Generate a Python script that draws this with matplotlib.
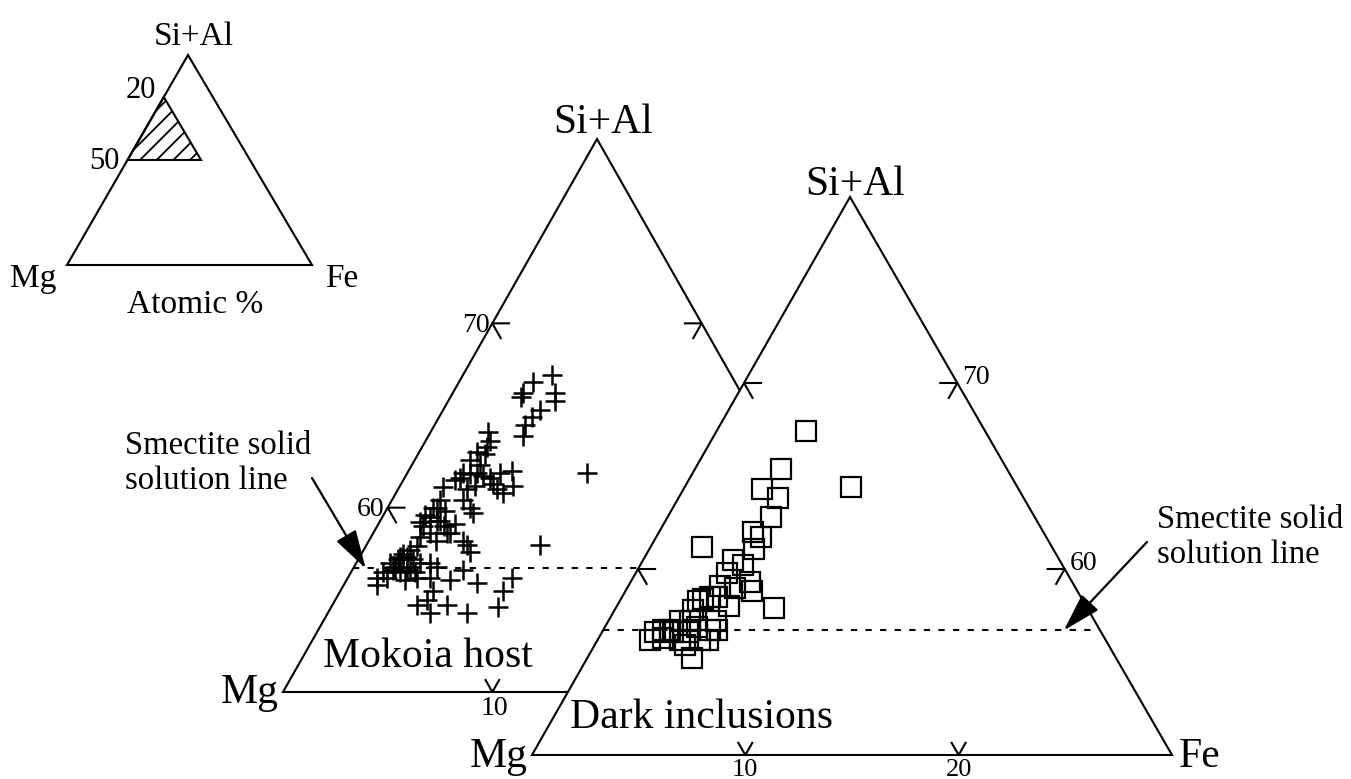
import numpy as np
import matplotlib
matplotlib.use('Agg')
import matplotlib.pyplot as plt
from matplotlib.patches import Polygon

plt.rcParams['font.family'] = ['Liberation Serif', 'DejaVu Serif']
plt.rcParams['hatch.linewidth'] = 1.3

# atomic % compositions (Fe, Si+Al); Mg is the rest
host_fe = [4.25, 3.52, 3.35, 3.35, 4.88, 5.07, 4.63, 4.44, 4.32, 4.50,
           2.74, 3.11, 3.10, 2.79, 2.64, 2.66, 3.05, 3.33, 3.72, 2.65,
           4.43, 4.96, 5.38, 4.74, 5.11, 4.36, 2.08, 3.39, 3.92, 4.22,
           8.59, 3.25, 3.22, 3.56, 3.31, 2.47, 4.09, 2.34, 2.27, 2.69,
           3.17, 3.52, 2.21, 2.71, 2.34, 3.23, 2.47, 4.80, 5.14, 8.29,
           2.83, 3.66, 4.48, 2.15, 1.96, 1.98, 2.86, 3.69, 2.29, 2.22,
           1.96, 1.87, 1.61, 2.11, 2.26, 2.63, 3.05, 3.53, 3.97, 1.94,
           2.36, 2.61, 1.55, 1.37, 2.79, 3.90, 5.29, 4.94, 6.31, 7.85,
           7.75, 4.40, 4.39, 4.04, 5.48, 6.65, 7.95, 4.88, 1.85, 1.59,
           3.28, 1.93, 1.96, 2.68, 3.05]
host_si = [67.2, 66.8, 66.2, 66.0, 66.2, 65.8, 65.3, 64.9, 64.5, 63.9,
           64.1, 63.6, 63.3, 63.0, 62.6, 61.9, 61.8, 61.9, 61.7, 61.6,
           61.9, 62.0, 61.2, 61.0, 60.8, 61.3, 61.1, 60.4, 60.0, 59.7,
           61.9, 62.3, 62.9, 61.2, 61.0, 61.5, 61.6, 60.0, 59.5, 59.3,
           59.0, 58.6, 59.0, 58.6, 58.4, 58.2, 57.9, 58.0, 57.6, 58.0,
           59.3, 58.6, 58.2, 60.0, 59.2, 59.6, 59.8, 59.1, 60.4, 57.7,
           57.5, 57.2, 57.0, 57.2, 57.3, 57.2, 57.0, 57.0, 56.8, 56.6,
           56.5, 56.6, 56.5, 56.2, 56.1, 56.2, 56.6, 56.1, 55.9, 56.2,
           55.5, 55.5, 55.0, 54.7, 54.7, 54.3, 54.6, 54.3, 56.2, 55.8,
           56.2, 57.3, 56.8, 56.8, 56.5]

dark_fe = [4.19, 4.00, 7.80, 3.68, 4.66, 4.82, 4.40, 4.91, 4.88, 2.41,
           4.21, 4.81, 4.28, 5.60, 5.05, 5.93, 7.42, 5.24, 3.82, 4.13,
           4.45, 3.64, 3.68, 3.38, 3.85, 4.32, 5.01, 5.33, 2.80, 2.46,
           3.01, 3.35, 3.87, 4.01, 5.18, 4.91, 3.13, 4.81, 2.48, 4.23,
           5.07, 4.27]
dark_si = [67.4, 65.4, 64.4, 64.3, 63.8, 62.8, 62.0, 61.7, 61.1, 61.2,
           60.5, 60.2, 59.8, 59.3, 59.0, 58.8, 57.9, 58.0, 58.4, 58.5,
           58.5, 58.3, 57.8, 57.2, 57.2, 56.9, 56.7, 56.7, 56.7, 56.2,
           56.3, 56.6, 56.2, 56.6, 56.2, 55.2, 56.7, 56.2, 56.6, 55.9,
           57.2, 59.1]

si_ticks = [60, 70]
fe_ticks = [10, 20]
smectite_si = 56.7

# triangle corners on the page: Mg, Si+Al, Fe
LEFT = [(283, 692), (597, 139), (911, 692)]
RIGHT = [(532, 755), (850, 197), (1172, 755)]
INSET = [(67, 265), (188, 55), (312, 265)]

fig = plt.figure(figsize=(13.51, 7.79), dpi=100)
ax = fig.add_axes([0, 0, 1, 1])
ax.set_xlim(0, 1351)
ax.set_ylim(779, 0)
ax.axis('off')


def tern(fe, si, tri, lo=50, span=30):
    (mx, my), (tx, ty), (fx, fy) = tri
    a = (np.asarray(si, dtype=float) - lo) / span
    b = np.asarray(fe, dtype=float) / span
    c = 1 - a - b
    return c * mx + a * tx + b * fx, c * my + a * ty + b * fy


def seg(pts, tri, z, **kw):
    xs, ys = zip(*[tern(f, s, tri) for f, s in pts])
    ax.plot(xs, ys, color='black', lw=1.5, zorder=z, solid_capstyle='butt', **kw)


def draw_triangle(tri, z):
    ax.add_patch(Polygon(tri, closed=True, fc='white', ec='black', lw=1.5,
                         zorder=z, joinstyle='miter'))
    d = 0.85
    for s in si_ticks:
        seg([(d, s), (0, s), (d, s - d)], tri, z + 0.2)
        fr = 80 - s
        seg([(fr - d, s), (fr, s), (fr, s - d)], tri, z + 0.2)
    for f in fe_ticks:
        seg([(f - 0.7, 50.7), (f, 50), (f, 50.7)], tri, z + 0.2)
    seg([(0, smectite_si), (80 - smectite_si, smectite_si)], tri, z + 0.1,
        dashes=(3, 4))


# left triangle: Mokoia host
draw_triangle(LEFT, 1)
hx, hy = tern(host_fe, host_si, LEFT)
ax.plot(hx, hy, '+', ms=15, mew=1.8, color='black', zorder=1.5)

# right triangle on top: dark inclusions
draw_triangle(RIGHT, 3)
dx, dy = tern(dark_fe, dark_si, RIGHT)
ax.plot(dx, dy, 's', ms=14, mfc='none', mec='black', mew=1.6, zorder=3.5)

big = 30
ax.text(603, 133, 'Si+Al', ha='center', va='baseline', fontsize=big)
ax.text(855, 195, 'Si+Al', ha='center', va='baseline', fontsize=big)
ax.text(279, 703, 'Mg', ha='right', va='baseline', fontsize=big)
ax.text(528, 767, 'Mg', ha='right', va='baseline', fontsize=big)
ax.text(1179, 767, 'Fe', ha='left', va='baseline', fontsize=big)
ax.text(323, 667, 'Mokoia host', ha='left', va='baseline', fontsize=big)
ax.text(570, 728, 'Dark inclusions', ha='left', va='baseline', fontsize=big)

small = 20
for s in si_ticks:
    x, y = tern(0, s, LEFT)
    ax.text(x - 3, y + 2, str(s), ha='right', va='center', fontsize=small)
    x, y = tern(80 - s, s, RIGHT)
    ax.text(x + 5, y - 6, str(s), ha='left', va='center', fontsize=small)
x, y = tern(fe_ticks[0], 50, LEFT)
ax.text(x + 2, y + 4, str(fe_ticks[0]), ha='center', va='top', fontsize=small)
for f in fe_ticks:
    x, y = tern(f, 50, RIGHT)
    ax.text(x, y + 21, str(f), ha='center', va='baseline', fontsize=19)

note = 'Smectite solid\nsolution line'
ax.text(125, 463, note, ha='left', va='center', fontsize=23.5, linespacing=1.2)
ax.text(1157, 537, note, ha='left', va='center', fontsize=23.5, linespacing=1.2)
arrow = dict(arrowstyle='-|>,head_length=1.2,head_width=0.35', mutation_scale=20,
             lw=1.6, color='black', shrinkA=0, shrinkB=0)
ax.annotate('', xy=tern(0.6, smectite_si, LEFT), xytext=(312, 478),
            arrowprops=arrow, zorder=5)
ax.annotate('', xy=tern(21.6, smectite_si, RIGHT), xytext=(1147, 542),
            arrowprops=arrow, zorder=5)

# inset: where the magnified part sits in the full diagram
ax.add_patch(Polygon(INSET, closed=True, fc='white', ec='black', lw=1.5,
                     joinstyle='miter'))
zone = [tern(0, 80, INSET, 0, 100), tern(0, 50, INSET, 0, 100),
        tern(30, 50, INSET, 0, 100)]
ax.add_patch(Polygon(zone, closed=True, fill=False, hatch='//', ec='black', lw=1.5))
ax.text(194, 45, 'Si+Al', ha='center', va='baseline', fontsize=24)
x, y = tern(0, 80, INSET, 0, 100)
ax.text(x - 8, y - 7, '20', ha='right', va='center', fontsize=22)
x, y = tern(0, 50, INSET, 0, 100)
ax.text(x - 8, y + 1, '50', ha='right', va='center', fontsize=22)
ax.text(10, 287, 'Mg', ha='left', va='baseline', fontsize=24)
ax.text(127, 313, 'Atomic %', ha='left', va='baseline', fontsize=24)
ax.text(325, 287, 'Fe', ha='left', va='baseline', fontsize=24)

fig.savefig('out.png', dpi=100, facecolor='white')
